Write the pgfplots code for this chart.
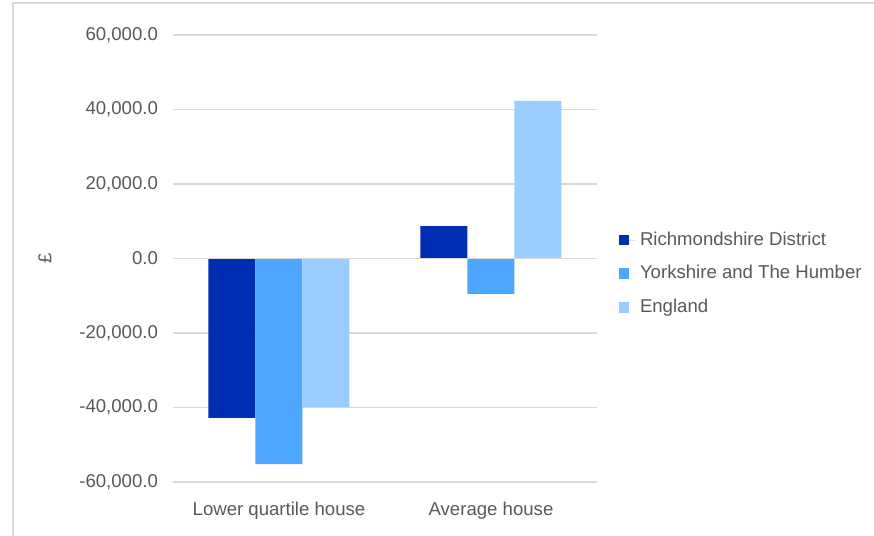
\documentclass[border=0pt]{standalone}
\usepackage{fontspec}
\setmainfont{Liberation Sans}
\usepackage{pgfplots}
\pgfplotsset{compat=1.18}
\definecolor{richm}{HTML}{002EB3}
\definecolor{yorks}{HTML}{4DA6FF}
\definecolor{engl}{HTML}{99CCFF}
\definecolor{txt}{HTML}{595959}
\definecolor{gridc}{HTML}{D9D9D9}
\begin{document}
\begin{tikzpicture}
\useasboundingbox (-86.5pt,-27pt) rectangle (350.5pt,241pt);
\draw[gridc, line width=0.6pt] (-80pt,-27pt) -- (-80pt,239.5pt) -- (350.5pt,239.5pt);
\begin{axis}[
    at={(0,0)}, anchor=south west,
    scale only axis,
    width=212pt, height=223.5pt,
    ybar=0pt, bar width=23.5pt,
    xmin=-0.5, xmax=1.5,
    ymin=-60000, ymax=60000,
    ytick={-60000,-40000,...,60000},
    xtick={0,1},
    xticklabels={Lower quartile house, Average house},
    axis line style={draw=none},
    major tick length=0pt,
    ymajorgrids, grid style={gridc, line width=0.8pt},
    font=\fontsize{9.3pt}{11pt}\selectfont,
    tick label style={txt},
    xticklabel style={yshift=-6.5pt},
    yticklabel style={xshift=-4pt},
    /pgf/number format/.cd, fixed, fixed zerofill, precision=1, 1000 sep={,}, assume math mode=true,
    /pgfplots/.cd,
    scaled y ticks=false,
    ylabel={\textcolor{txt}{£}},
    ylabel style={at={(rel axis cs:0,0.5)}, yshift=64pt, anchor=center},
    legend style={at={(rel axis cs:1.05,0.466)}, anchor=west, draw=none,
        font=\fontsize{9.3pt}{11pt}\selectfont\color{txt}, row sep=4.6pt,
        inner sep=0pt},
    legend cell align=left,
    legend image code/.code={\fill[#1] (0pt,-2.6pt) rectangle (5.2pt,2.6pt); \path (0pt,0pt) -- (8.7pt,0pt);},
]
\addplot[fill=richm, draw=none] coordinates {(0,-42800) (1,8700)};
\addlegendentry{Richmondshire District}
\addplot[fill=yorks, draw=none] coordinates {(0,-55200) (1,-9500)};
\addlegendentry{Yorkshire and The Humber}
\addplot[fill=engl, draw=none] coordinates {(0,-39900) (1,42300)};
\addlegendentry{England}
\draw[gridc, line width=0.8pt] (axis cs:-0.5,0) -- (axis cs:1.5,0);
\end{axis}
\end{tikzpicture}
\end{document}
